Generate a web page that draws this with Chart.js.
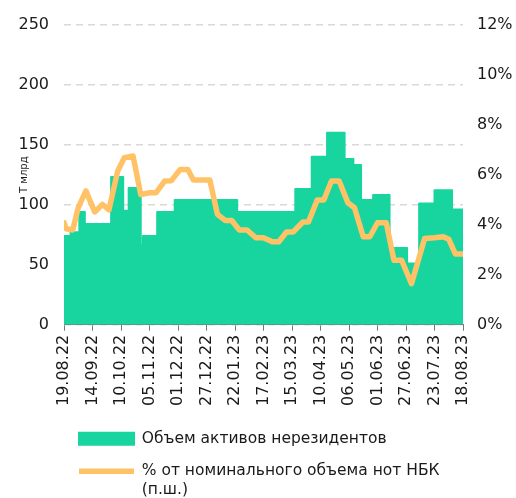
<!DOCTYPE html>
<html>
<head>
<meta charset="utf-8">
<script src="https://cdn.jsdelivr.net/npm/chart.js@4.4.0/dist/chart.umd.min.js"></script>
<style>
    html, body { margin: 0; padding: 0; background: #fff; }
</style>
</head>
<body>
<canvas id="myChart" width="516" height="498"></canvas>
<script>
const tickLabels = ['19.08.22', '14.09.22', '10.10.22', '05.11.22', '01.12.22', '27.12.22', '22.01.23', '17.02.23',
    '15.03.23', '10.04.23', '06.05.23', '01.06.23', '27.06.23', '23.07.23', '18.08.23'];

/* days since 19.08.22 where the volume steps to a new level */
const assetDays = [0, 6, 14, 19, 43, 54, 59, 70, 72, 85, 101, 158, 211, 226, 240, 256, 264, 271, 282, 297, 313, 324, 338, 354, 364];
const assetValues = [74, 77, 94, 84, 123, 95, 114, 66, 74, 94, 104, 94, 113, 140, 160, 138, 133, 104, 108, 64, 51, 101, 112, 96, 96];

/* share of NBK notes, % */
const shareDays = [0, 2, 8, 13, 20, 28, 35, 41, 49, 55, 63, 70, 78, 84, 92, 98, 106, 113, 118, 133,
    140, 147, 153, 160, 167, 175, 182, 190, 196, 203, 209, 218, 223, 231, 237, 244, 251, 259, 265, 273,
    279, 286, 294, 301, 308, 317, 329, 338, 346, 351, 357, 364];
const shareValues = [4.08, 3.84, 3.79, 4.68, 5.35, 4.51, 4.81, 4.59, 6.15, 6.68, 6.75, 5.21, 5.28, 5.28, 5.75, 5.76, 6.21, 6.21, 5.79, 5.79,
    4.41, 4.17, 4.17, 3.79, 3.79, 3.48, 3.48, 3.32, 3.32, 3.71, 3.71, 4.11, 4.11, 4.99, 4.99, 5.75, 5.75, 4.88, 4.68, 3.52,
    3.52, 4.08, 4.08, 2.58, 2.58, 1.64, 3.45, 3.48, 3.52, 3.42, 2.83, 2.83];

const assetLabel = 'Объем активов нерезидентов';
const shareLabel = ['% от номинального объема нот НБК', '(п.ш.)'];

const green = '#18d49f';
const orange = '#ffc266';
const textColor = '#1a1a1a';
const font = { family: 'DejaVu Sans', size: 16 };


function toPoints(days, values) {
    return days.map((d, i) => ({ x: d, y: values[i] }));
}


const axisTitle = {
    id: 'axisTitle',
    afterDraw(chart) {
        const ctx = chart.ctx;
        const area = chart.chartArea;
        ctx.save();
        ctx.translate(24, (area.top + area.bottom) / 2);
        ctx.rotate(-Math.PI / 2);
        ctx.font = '10px "DejaVu Sans"';
        ctx.fillStyle = textColor;
        ctx.textAlign = 'center';
        ctx.textBaseline = 'middle';
        ctx.fillText('Т млрд', 0, 0);
        ctx.restore();
    }
};

/* legend box does not count the second text line, so let it reach the bottom */
const legendRoom = {
    id: 'legendRoom',
    afterLayout(chart) {
        chart.legend.left -= 2;
        chart.legend.bottom = chart.height;
        chart.legend.height = chart.legend.bottom - chart.legend.top;
    }
};


new Chart(document.getElementById('myChart'), {
    type: 'line',
    data: {
        datasets: [
            {
                label: shareLabel,
                data: toPoints(shareDays, shareValues),
                yAxisID: 'y1',
                order: 0,
                borderColor: orange,
                backgroundColor: orange,
                borderWidth: 5.5,
                borderJoinStyle: 'round',
                borderCapStyle: 'round',
                tension: 0,
                pointRadius: 0,
                pointStyle: 'line',
                fill: false
            },
            {
                label: assetLabel,
                data: toPoints(assetDays, assetValues),
                yAxisID: 'y',
                order: 1,
                stepped: true,
                borderColor: green,
                backgroundColor: green,
                borderWidth: 2,
                borderJoinStyle: 'round',
                pointRadius: 0,
                pointStyle: 'rect',
                fill: 'origin'
            }
        ]
    },
    options: {
        responsive: false,
        animation: false,
        layout: { padding: { left: 18, right: 3, top: 22, bottom: 9 } },
        plugins: {
            tooltip: { enabled: false },
            legend: {
                position: 'bottom',
                align: 'start',
                fullSize: false,
                reverse: true,
                labels: {
                    usePointStyle: true,
                    pointStyleWidth: 55,
                    boxHeight: 12,
                    padding: 17,
                    color: textColor,
                    font: { family: 'DejaVu Sans', size: 15.5 }
                }
            }
        },
        scales: {
            x: {
                type: 'linear',
                min: 0,
                max: 364,
                grid: { drawOnChartArea: false, drawTicks: true, tickLength: 6, color: '#777' },
                border: { display: true, color: '#777', width: 1 },
                ticks: {
                    stepSize: 26,
                    autoSkip: false,
                    maxRotation: 90,
                    minRotation: 90,
                    padding: 4,
                    color: textColor,
                    font: font,
                    callback: (v) => tickLabels[v / 26]
                },
                afterFit(scale) {
                    scale.height += 4;
                }
            },
            y: {
                position: 'left',
                min: 0,
                max: 250,
                grid: { color: '#d9d9d9', lineWidth: 1.5, drawTicks: false },
                border: { display: false, dash: [7, 5] },
                ticks: { stepSize: 50, padding: 15, color: textColor, font: font },
                afterFit(scale) {
                    scale.width = 46;
                }
            },
            y1: {
                position: 'right',
                min: 0,
                max: 12,
                grid: { display: false, drawTicks: false },
                border: { display: false },
                ticks: { stepSize: 2, padding: 14, color: textColor, font: font, callback: (v) => v + '%' },
                afterFit(scale) {
                    scale.width = 50;
                }
            }
        }
    },
    plugins: [axisTitle, legendRoom]
});
</script>
</body>
</html>
